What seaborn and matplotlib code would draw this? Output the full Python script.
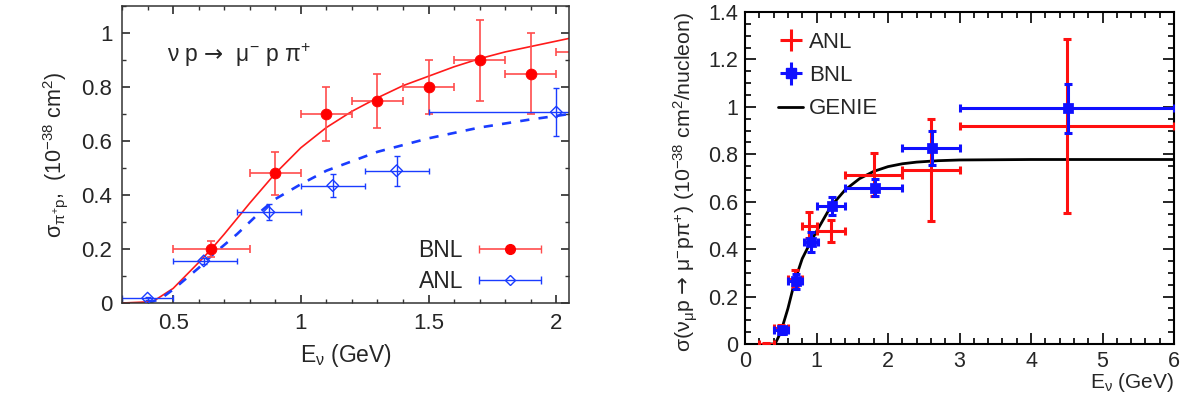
import numpy as np
import pandas as pd
import matplotlib
matplotlib.use('Agg')
import matplotlib.pyplot as plt
import seaborn as sns
from matplotlib.ticker import MultipleLocator
from matplotlib.legend_handler import HandlerErrorbar
from matplotlib.container import ErrorbarContainer

# ---- left panel: nu p -> mu- p pi+ (BNL / ANL) ----
bnl_e = [0.65, 0.9, 1.1, 1.3, 1.5, 1.7, 1.9, 2.2]
bnl_sig = [0.20, 0.48, 0.70, 0.75, 0.80, 0.90, 0.85, 0.93]
bnl_ex = [0.15, 0.1, 0.1, 0.1, 0.1, 0.1, 0.1, 0.2]
bnl_ey = [0.03, 0.08, 0.10, 0.10, 0.10, 0.15, 0.15, 0.10]

anl_e = [0.4, 0.62, 0.875, 1.125, 1.375, 2.0]
anl_sig = [0.018, 0.156, 0.336, 0.435, 0.49, 0.707]
anl_ex_lo = [0.1, 0.12, 0.125, 0.125, 0.125, 0.5]
anl_ex_hi = [0.1, 0.13, 0.125, 0.125, 0.125, 0.5]
anl_ey = [0.005, 0.012, 0.03, 0.043, 0.055, 0.088]

red_e = [0.3, 0.42, 0.5, 0.6, 0.65, 0.7, 0.8, 0.9, 1.0, 1.1, 1.2, 1.3, 1.4,
         1.5, 1.6, 1.7, 1.8, 1.9, 2.0, 2.05]
red_sig = [0.0, 0.005, 0.054, 0.15, 0.2, 0.255, 0.37, 0.48, 0.575, 0.65, 0.71,
           0.76, 0.805, 0.84, 0.875, 0.905, 0.93, 0.95, 0.97, 0.98]
blue_e = [0.4, 0.45, 0.5, 0.6, 0.65, 0.7, 0.75, 0.8, 0.85, 0.9, 1.0, 1.1, 1.2,
          1.3, 1.4, 1.5, 1.6, 1.7, 1.8, 1.9, 2.0, 2.05]
blue_sig = [0.0, 0.015, 0.05, 0.13, 0.175, 0.215, 0.255, 0.30, 0.345, 0.385,
            0.44, 0.49, 0.525, 0.56, 0.585, 0.61, 0.63, 0.65, 0.665, 0.68,
            0.693, 0.70]

# ---- right panel: ANL / BNL / GENIE ----
r_anl_e = [0.3, 0.5, 0.7, 0.9, 1.2, 1.8, 2.6, 4.5]
r_anl_ex_lo = [0.1, 0.1, 0.1, 0.1, 0.2, 0.4, 0.4, 1.5]
r_anl_ex_hi = [0.1, 0.1, 0.1, 0.1, 0.2, 0.4, 0.4, 1.5]
r_anl_sig = [0.0, 0.068, 0.276, 0.497, 0.477, 0.714, 0.733, 0.921]
r_anl_ey_lo = [0.004, 0.012, 0.035, 0.05, 0.047, 0.092, 0.215, 0.37]
r_anl_ey_hi = [0.004, 0.012, 0.035, 0.06, 0.047, 0.092, 0.215, 0.365]

r_bnl_e = [0.52, 0.71, 0.92, 1.22, 1.82, 2.62, 4.52]
r_bnl_ex_lo = [0.12, 0.11, 0.1, 0.22, 0.42, 0.42, 1.52]
r_bnl_ex_hi = [0.08, 0.09, 0.1, 0.18, 0.38, 0.38, 1.48]
r_bnl_sig = [0.057, 0.264, 0.431, 0.58, 0.658, 0.826, 0.994]
r_bnl_ey = [0.015, 0.033, 0.042, 0.038, 0.036, 0.073, 0.103]

genie_e = [0.35, 0.42, 0.5, 0.6, 0.7, 0.8, 0.9, 1.0, 1.2, 1.4, 1.6, 1.8, 2.0,
           2.2, 2.4, 2.7, 3.0, 4.0, 6.0]
genie_sig = [0.0, 0.0, 0.05, 0.15, 0.27, 0.36, 0.42, 0.475, 0.58, 0.65, 0.697,
             0.728, 0.748, 0.760, 0.767, 0.773, 0.776, 0.778, 0.778]

sns.set_theme(style='ticks')
plt.rcParams['font.family'] = ['Liberation Sans', 'DejaVu Sans']
plt.rcParams['mathtext.fontset'] = 'custom'
plt.rcParams['mathtext.rm'] = 'Liberation Sans'
plt.rcParams['mathtext.it'] = 'Liberation Sans'
plt.rcParams['mathtext.sf'] = 'DejaVu Sans'
plt.rcParams['mathtext.default'] = 'regular'

fig = plt.figure(figsize=(11.86, 3.96), dpi=100)
ax1 = fig.add_axes([0.1029, 0.2348, 0.3769, 0.75])
ax2 = fig.add_axes([0.6282, 0.1313, 0.3617, 0.8384])

# left
sns.lineplot(x=red_e, y=red_sig, ax=ax1, color='#ff1a1a', lw=1.2, sort=False)
sns.lineplot(x=blue_e, y=blue_sig, ax=ax1, color='#1a3cff', lw=1.9,
             linestyle=(0, (3.5, 3.5)), sort=False)
ax1.errorbar(bnl_e, bnl_sig, xerr=bnl_ex, yerr=bnl_ey, fmt='none',
             ecolor='#ff4d4d', elinewidth=1.2, capsize=3, capthick=1.2)
ax1.errorbar(anl_e, anl_sig, xerr=[anl_ex_lo, anl_ex_hi], yerr=anl_ey, fmt='none',
             ecolor='#1a3cff', elinewidth=1.0, capsize=2.5, capthick=1.0)
sns.scatterplot(x=bnl_e, y=bnl_sig, ax=ax1, color='red', s=60, marker='o',
                edgecolor='red', zorder=5)
sns.scatterplot(x=anl_e, y=anl_sig, ax=ax1, facecolor='none', s=35, marker='D',
                edgecolor='#1a3cff', linewidth=1.0, zorder=5)

h_bnl = ax1.errorbar([np.nan], [np.nan], xerr=[1], fmt='o', color='red', ms=7,
                     ecolor='#ff4d4d', elinewidth=1.2, capsize=3)
h_anl = ax1.errorbar([np.nan], [np.nan], xerr=[1], fmt='D', color='#1a3cff', ms=5,
                     mfc='none', elinewidth=1.0, capsize=3)
ax1.legend([h_bnl, h_anl], ['BNL', 'ANL'], loc='lower right', frameon=False,
           markerfirst=False, fontsize=16.5, handlelength=3.0, labelspacing=0.35,
           handletextpad=0.55, borderpad=0, borderaxespad=0,
           bbox_to_anchor=(0.945, 0.035),
           handler_map={ErrorbarContainer: HandlerErrorbar(xerr_size=1.35)})

ax1.text(0.1, 0.835, r'ν p $\mathsf{→}$  μ$^{-}$ p π$^{+}$',
         transform=ax1.transAxes, fontsize=16.5, va='center')
ax1.set_xlim(0.3, 2.05)
ax1.set_ylim(0, 1.1)
ax1.xaxis.set_minor_locator(MultipleLocator(0.1))
ax1.yaxis.set_minor_locator(MultipleLocator(0.1))
ax1.set_xticks([0.5, 1, 1.5, 2], ['0.5', '1', '1.5', '2'])
ax1.set_yticks([0, 0.2, 0.4, 0.6, 0.8, 1], ['0', '0.2', '0.4', '0.6', '0.8', '1'])
ax1.tick_params(which='both', direction='in', top=True, right=True,
                labelsize=16, color='#333333', pad=7)
ax1.tick_params(which='major', length=6)
ax1.tick_params(which='minor', length=3)
for s in ax1.spines.values():
    s.set_color('#333333')
    s.set_linewidth(1.1)
ax1.set_xlabel(r'E$_{ν}$ (GeV)', fontsize=16.5, labelpad=6)
ax1.set_ylabel(r'σ$_{π^{+}p}$,  (10$^{-38}$ cm$^{2}$)', fontsize=15.5, labelpad=8)

# right
sns.lineplot(x=genie_e, y=genie_sig, ax=ax2, color='black', lw=2.0, sort=False,
             label='GENIE', legend=False)
ax2.errorbar(r_anl_e, r_anl_sig, xerr=[r_anl_ex_lo, r_anl_ex_hi],
             yerr=[r_anl_ey_lo, r_anl_ey_hi], fmt='none', ecolor='#ff1010',
             elinewidth=2.2, capsize=3, capthick=2.2, zorder=3)
ax2.errorbar(r_bnl_e, r_bnl_sig, xerr=[r_bnl_ex_lo, r_bnl_ex_hi],
             yerr=r_bnl_ey, fmt='none', ecolor='#1010ff',
             elinewidth=2.2, capsize=3, capthick=2.2, zorder=4)
sns.scatterplot(x=r_bnl_e, y=r_bnl_sig, ax=ax2, color='#1010ff', marker='s', s=45,
                edgecolor='#1010ff', zorder=5)
h_a = ax2.errorbar([np.nan], [np.nan], xerr=[1], yerr=[1], fmt='none',
                   ecolor='#ff1010', elinewidth=2.2)
h_b = ax2.errorbar([np.nan], [np.nan], xerr=[1], yerr=[1], fmt='s', color='#1010ff',
                   ms=7, elinewidth=2.2)
h_g = ax2.get_lines()[0]
ax2.legend([h_a, h_b, h_g], ['ANL', 'BNL', 'GENIE'], loc='upper left',
           frameon=False, fontsize=16, handlelength=1.15, handletextpad=0.25,
           labelspacing=0.55, bbox_to_anchor=(0.03, 1.0))

ax2.set_xlim(0, 6)
ax2.set_ylim(0, 1.4)
ax2.xaxis.set_major_locator(MultipleLocator(1))
ax2.xaxis.set_minor_locator(MultipleLocator(0.2))
ax2.set_yticks([0, 0.2, 0.4, 0.6, 0.8, 1, 1.2, 1.4],
               ['0', '0.2', '0.4', '0.6', '0.8', '1', '1.2', '1.4'])
ax2.yaxis.set_minor_locator(MultipleLocator(0.05))
ax2.tick_params(which='both', direction='in', top=True, right=True,
                labelsize=15.5, color='black', width=1.2, pad=5)
ax2.tick_params(which='major', length=8)
ax2.tick_params(which='minor', length=4)
for s in ax2.spines.values():
    s.set_color('black')
    s.set_linewidth(1.5)
ax2.set_xlabel(r'E$_{ν}$ (GeV)', fontsize=15, loc='right', labelpad=-1)
ax2.set_ylabel(r'σ(ν$_{μ}$p $\mathsf{→}$ μ$^{-}$pπ$^{+}$) (10$^{-38}$ cm$^{2}$/nucleon)',
               fontsize=15.3, loc='top', labelpad=6)

fig.savefig('out.png', dpi=100)
